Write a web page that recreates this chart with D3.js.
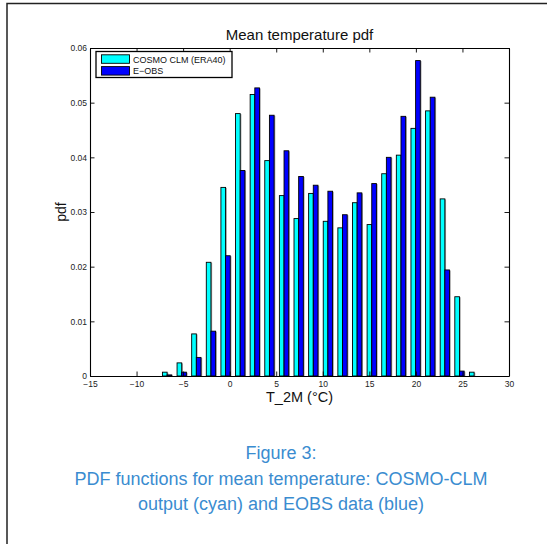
<!DOCTYPE html>
<html>
<head>
<meta charset="utf-8">
<script src="https://cdn.jsdelivr.net/npm/d3@7"></script>
<style>
  body { margin: 0; background: #fff; }
  text { font-family: "Liberation Sans", Arial, Helvetica, sans-serif; }
</style>
</head>
<body>
<svg id="svg" width="547" height="544"></svg>
<script>
// bin centres (deg C)
var binCenters = [-6.72, -5.15, -3.58, -2.01, -0.44, 1.13, 2.70, 4.27, 5.84, 7.41, 8.98,
                  10.55, 12.12, 13.69, 15.26, 16.83, 18.40, 19.97, 21.54, 23.11, 24.68, 26.25]
// COSMO CLM (ERA40), cyan
var cosmoPdf = [0.0007, 0.0024, 0.0077, 0.0208, 0.0345, 0.0480, 0.0515, 0.0394, 0.0330, 0.0288, 0.0334,
                0.0283, 0.0271, 0.0317, 0.0277, 0.0370, 0.0404, 0.0453, 0.0485, 0.0324, 0.0145, 0.0007]
// E-OBS, blue
var eobsPdf = [0.0002, 0.0007, 0.0034, 0.0082, 0.0220, 0.0376, 0.0527, 0.0477, 0.0412, 0.0365, 0.0349,
               0.0338, 0.0295, 0.0335, 0.0352, 0.0400, 0.0475, 0.0577, 0.0510, 0.0194, 0.0009, 0.0000]

var seriesNames = ["COSMO CLM (ERA40)", "E\u2212OBS"]
var seriesColors = ["#00ffff", "#0000ff"]
var xTicks = [-15, -10, -5, 0, 5, 10, 15, 20, 25, 30]
var yTicks = [0, 0.01, 0.02, 0.03, 0.04, 0.05, 0.06]
var captionLines = ["Figure 3:", "PDF functions for mean temperature: COSMO-CLM", "output (cyan) and EOBS data (blue)"]

var svg = d3.select("#svg")

// page frame
svg.append("path")
  .attr("d", "M7,544V3.5H547")
  .attr("fill", "none")
  .attr("stroke", "#222")
  .attr("stroke-width", 1.5)

var pL = 90, pR = 509, pT = 48, pB = 376
var x = d3.scaleLinear().domain([-15, 30]).range([pL, pR])
var y = d3.scaleLinear().domain([0, 0.06]).range([pB, pT])
var halfW = 0.5 // bar width in deg C

var bins = binCenters.map(function(c, i) { return {c: c, v: [cosmoPdf[i], eobsPdf[i]]} })

var plot = svg.append("g")

// bars: cyan left of the centre, blue right of it
seriesColors.forEach(function(col, s) {
  var g = plot.append("g")
  var x0 = function(d) { return s == 0 ? x(d.c - halfW) : x(d.c) }
  var w = function(d) { return x(d.c + halfW) - x(d.c) }
  // soft grey shadow like the original raster
  g.selectAll(".shadow").data(bins).enter().append("rect")
    .attr("x", function(d) { return x0(d) + 1.2 })
    .attr("y", function(d) { return y(d.v[s]) + 0.5 })
    .attr("width", w)
    .attr("height", function(d) { return pB - y(d.v[s]) - 0.5 })
    .attr("fill", "#9a9a9a")
  g.selectAll(".bar").data(bins).enter().append("rect")
    .attr("x", x0)
    .attr("y", function(d) { return y(d.v[s]) })
    .attr("width", w)
    .attr("height", function(d) { return pB - y(d.v[s]) })
    .attr("fill", col)
    .attr("stroke", "#000")
    .attr("stroke-width", 0.9)
})

// axes, ticks inward on all four sides
var fmtY = function(d) { return d == 0 ? "0" : d3.format(".2f")(d) }
svg.append("g").attr("transform", "translate(0," + pB + ")")
  .call(d3.axisBottom(x).tickValues(xTicks).tickSizeInner(-4.5).tickSizeOuter(0).tickPadding(5))
svg.append("g").attr("transform", "translate(0," + pT + ")")
  .call(d3.axisTop(x).tickValues(xTicks).tickSizeInner(-4.5).tickSizeOuter(0).tickFormat(""))
svg.append("g").attr("transform", "translate(" + pL + ",0)")
  .call(d3.axisLeft(y).tickValues(yTicks).tickSizeInner(-4.5).tickSizeOuter(0).tickPadding(3).tickFormat(fmtY))
svg.append("g").attr("transform", "translate(" + pR + ",0)")
  .call(d3.axisRight(y).tickValues(yTicks).tickSizeInner(-4.5).tickSizeOuter(0).tickFormat(""))

svg.selectAll(".domain").attr("stroke", "#000").attr("stroke-width", 1.1)
svg.selectAll(".tick line").attr("stroke", "#000").attr("stroke-width", 0.9)
svg.selectAll(".tick text")
  .attr("font-size", "8.5px")
  .attr("fill", "#222")
  .style("font-family", '"Liberation Sans", Arial, sans-serif')

// legend
var leg = svg.append("g")
leg.append("rect")
  .attr("x", 96).attr("y", 51.5).attr("width", 136).attr("height", 26)
  .attr("fill", "#fff").attr("stroke", "#000").attr("stroke-width", 1.3)
seriesNames.forEach(function(name, i) {
  leg.append("rect")
    .attr("x", 101.5).attr("y", 54.8 + i * 11.8).attr("width", 28).attr("height", 8.5)
    .attr("fill", seriesColors[i]).attr("stroke", "#000").attr("stroke-width", 0.9)
  leg.append("text")
    .attr("x", 133).attr("y", 62.6 + i * 11.8)
    .attr("font-size", "9px")
    .attr("fill", "#111")
    .text(name)
})

// titles
svg.append("text")
  .attr("x", (pL + pR) / 2).attr("y", 40)
  .attr("text-anchor", "middle").attr("font-size", "15px").attr("fill", "#111")
  .text("Mean temperature pdf")
svg.append("text")
  .attr("x", (pL + pR) / 2).attr("y", 402)
  .attr("text-anchor", "middle").attr("font-size", "14.5px").attr("fill", "#111")
  .text("T_2M (\u00b0C)")
svg.append("text")
  .attr("transform", "translate(66,212) rotate(-90)")
  .attr("text-anchor", "middle").attr("font-size", "14px").attr("fill", "#111")
  .text("pdf")

// caption
svg.append("g").selectAll("text").data(captionLines).enter().append("text")
  .attr("x", 281)
  .attr("y", function(d, i) { return 459 + i * 25.5 })
  .attr("text-anchor", "middle")
  .attr("font-size", "18px")
  .attr("fill", "#3a8cd0")
  .text(function(d) { return d })
</script>
</body>
</html>
